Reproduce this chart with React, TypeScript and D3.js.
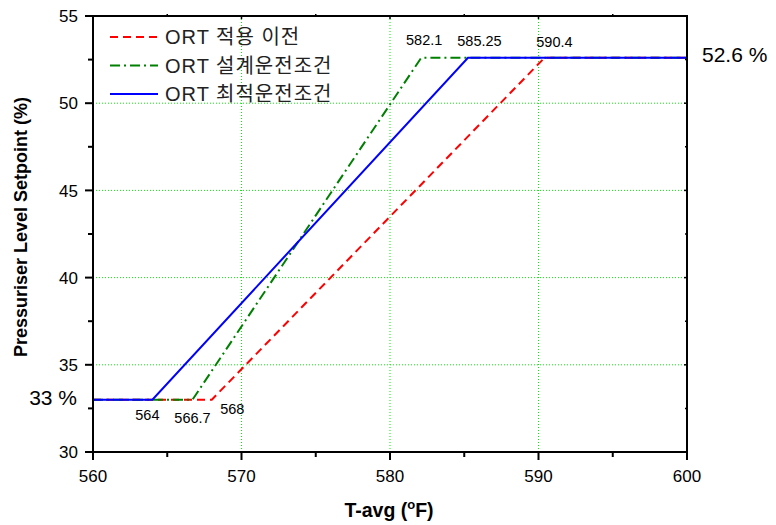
import * as d3 from "d3";

const W = 776;
const H = 525;
const M = { left: 93, right: 89, top: 16, bottom: 73 };

const xTicks = [560, 570, 580, 590, 600];
const yTicks = [30, 35, 40, 45, 50, 55];
const xMinor = [565, 575, 585, 595];
const yMinor = [32.5, 37.5, 42.5, 47.5, 52.5];
const xGrid = [570, 580, 590];
const yGrid = [35, 40, 45, 50];

// break points of each setpoint program (T-avg, level %)
const beforeX = [560, 568, 590.4, 600];
const beforeY = [33, 33, 52.6, 52.6];
const designX = [560, 566.7, 582.1, 600];
const designY = [33, 33, 52.6, 52.6];
const optimalX = [560, 564, 585.25, 600];
const optimalY = [33, 33, 52.6, 52.6];

const seriesNames = ["ORT 적용 이전", "ORT 설계운전조건", "ORT 최적운전조건"];
const seriesColors = ["#ff0000", "#008000", "#0000ff"];
const seriesDash = ["8,5", "10,4,2,4", "none"];

const notes = [
  { text: "582.1", x: 582.1, y: 52.6, dx: 3, dy: -17.6 },
  { text: "585.25", x: 585.25, y: 52.6, dx: 11.5, dy: -16.6 },
  { text: "590.4", x: 590.4, y: 52.6, dx: 10, dy: -15.6 },
  { text: "564", x: 564, y: 33, dx: -5, dy: 15 },
  { text: "566.7", x: 566.7, y: 33, dx: 0, dy: 18 },
  { text: "568", x: 568, y: 33, dx: 20.5, dy: 9 },
];

const FONT = "'Liberation Sans', Arial, sans-serif";
const KFONT = "'Liberation Sans', 'Noto Sans CJK KR', sans-serif";

export default function App() {
  const x = d3.scaleLinear().domain([560, 600]).range([M.left, W - M.right]);
  const y = d3.scaleLinear().domain([30, 55]).range([H - M.bottom, M.top]);
  const line = d3
    .line<[number, number]>()
    .x((d) => x(d[0]))
    .y((d) => y(d[1]));

  const series = [
    beforeX.map((v, i) => [v, beforeY[i]] as [number, number]),
    designX.map((v, i) => [v, designY[i]] as [number, number]),
    optimalX.map((v, i) => [v, optimalY[i]] as [number, number]),
  ];

  const x0 = x(560);
  const x1 = x(600);
  const y0 = y(30);
  const y1 = y(55);

  return (
    <svg
      width={W}
      height={H}
      style={{ position: "absolute", left: 0, top: 0, background: "#fff" }}
      fontFamily={FONT}
    >
      {/* grid */}
      {xGrid.map((v) => (
        <line key={"gx" + v} x1={x(v)} x2={x(v)} y1={y0} y2={y1} stroke="#00ee00" strokeWidth={1} strokeDasharray="1,2" />
      ))}
      {yGrid.map((v) => (
        <line key={"gy" + v} x1={x0} x2={x1} y1={y(v)} y2={y(v)} stroke="#00ee00" strokeWidth={1} strokeDasharray="1,2" />
      ))}

      {/* series */}
      {series.map((s, i) => (
        <path
          key={i}
          d={line(s) || ""}
          fill="none"
          stroke={seriesColors[i]}
          strokeWidth={2}
          strokeDasharray={seriesDash[i]}
        />
      ))}

      {/* frame */}
      <rect x={x0} y={y1} width={x1 - x0} height={y0 - y1} fill="none" stroke="#000" strokeWidth={2} />

      {/* bottom ticks */}
      {xTicks.map((v) => (
        <g key={"xt" + v}>
          <line x1={x(v)} x2={x(v)} y1={y0} y2={y0 + 8} stroke="#000" strokeWidth={2} />
          <line x1={x(v)} x2={x(v)} y1={y1} y2={y1 + 3} stroke="#000" strokeWidth={1.5} />
          <text x={x(v)} y={y0 + 30} textAnchor="middle" fontSize={17}>
            {v}
          </text>
        </g>
      ))}
      {xMinor.map((v) => (
        <g key={"xm" + v}>
          <line x1={x(v)} x2={x(v)} y1={y0} y2={y0 + 5} stroke="#000" strokeWidth={2} />
          <line x1={x(v)} x2={x(v)} y1={y1} y2={y1 - 2} stroke="#000" strokeWidth={1.5} />
        </g>
      ))}

      {/* left ticks */}
      {yTicks.map((v) => (
        <g key={"yt" + v}>
          <line x1={x0 - 8} x2={x0} y1={y(v)} y2={y(v)} stroke="#000" strokeWidth={2} />
          <line x1={x1} x2={x1 - 3} y1={y(v)} y2={y(v)} stroke="#000" strokeWidth={1.5} />
          <text x={x0 - 15} y={y(v)} dy="0.36em" textAnchor="end" fontSize={17}>
            {v}
          </text>
        </g>
      ))}
      {yMinor.map((v) => (
        <g key={"ym" + v}>
          <line x1={x0 - 5} x2={x0} y1={y(v)} y2={y(v)} stroke="#000" strokeWidth={2} />
          <line x1={x1} x2={x1 - 2} y1={y(v)} y2={y(v)} stroke="#000" strokeWidth={1.5} />
        </g>
      ))}

      {/* axis titles */}
      <text x={389} y={517} textAnchor="middle" fontSize={19.5} fontWeight="bold">
        T-avg (
        <tspan fontSize={13} dy={-8}>o</tspan>
        <tspan dy={8}>F)</tspan>
      </text>
      <text
        transform={`translate(27, 227) rotate(-90)`}
        textAnchor="middle"
        fontSize={18}
        fontWeight="bold"
      >
        Pressuriser Level Setpoint (%)
      </text>

      {/* end labels */}
      <text x={x1 + 15} y={y(52.6) - 3} dy="0.36em" fontSize={21}>
        52.6 %
      </text>
      <text x={x0 - 16} y={y(33) - 2} dy="0.36em" textAnchor="end" fontSize={21}>
        33 %
      </text>

      {/* breakpoint notes */}
      {notes.map((n) => (
        <text key={n.text} x={x(n.x) + n.dx} y={y(n.y) + n.dy} dy="0.36em" textAnchor="middle" fontSize={14.5}>
          {n.text}
        </text>
      ))}

      {/* legend */}
      {seriesNames.map((name, i) => (
        <g key={name} transform={`translate(110, ${37 + i * 28.5})`}>
          <line x1={0} x2={48} y1={0} y2={0} stroke={seriesColors[i]} strokeWidth={2} strokeDasharray={seriesDash[i]} />
          <text x={55} y={0} dy="0.36em" fontSize={20} letterSpacing={1} fontFamily={KFONT} fill="#222">
            {name}
          </text>
        </g>
      ))}
    </svg>
  );
}
